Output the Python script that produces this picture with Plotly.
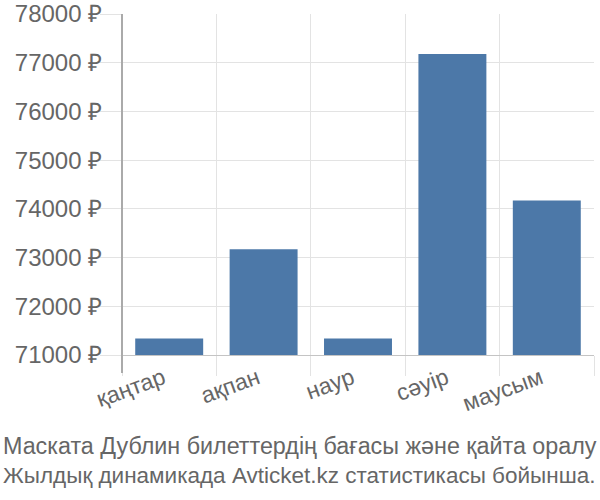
import plotly.graph_objects as go

months = ["қаңтар", "ақпан", "наур", "сәуір", "маусым"]
prices = [71340, 73170, 71340, 77180, 74170]
base_value = 71000
y_ticks = [71000, 72000, 73000, 74000, 75000, 76000, 77000, 78000]
y_tick_text = [f"{v} ₽" for v in y_ticks]
title_lines = ["Маската Дублин билеттердің бағасы және қайта оралу",
               "Жылдық динамикада Avticket.kz статистикасы бойынша."]

FONT = "Liberation Sans, Arial, sans-serif"
GRID = "#e3e3e3"
W, H = 600, 500
PL, PR, PT, PB = 122, 594, 14, 355  # plot area in window pixels
plot_h = PB - PT
plot_w = PR - PL

fig = go.Figure()
fig.add_trace(go.Bar(
    x=months,
    y=[p - base_value for p in prices],
    base=base_value,
    marker=dict(color="#4c78a8", line=dict(width=0)),
    hovertext=[f"{p} ₽" for p in prices],
))

fig.update_layout(
    width=W, height=H,
    margin=dict(l=PL, r=W - PR, t=PT, b=H - PB, autoexpand=False),
    paper_bgcolor="white", plot_bgcolor="white",
    bargap=0.28,
    showlegend=False,
    font=dict(family=FONT, color="#666666", size=23),
    xaxis=dict(
        type="category",
        tickson="boundaries",
        showgrid=True, gridcolor=GRID, gridwidth=1,
        ticks="outside", ticklen=20, tickcolor=GRID,
        tickangle=-20,
        ticklabelshift=-6,
        showline=True, linecolor="#c4c4c4", linewidth=1,
        tickfont=dict(size=23, color="#666666"),
    ),
    yaxis=dict(
        range=[base_value, 78000.5],
        tickvals=y_ticks, ticktext=y_tick_text,
        showgrid=True, gridcolor=GRID, gridwidth=1,
        ticks="outside", ticklen=21, tickcolor=GRID,
        ticklabelstandoff=-7,
        zeroline=False,
        tickfont=dict(size=24, color="#666666"),
    ),
    shapes=[dict(type="line", xref="paper", yref="paper",
                 x0=0, x1=0, y0=-18 / plot_h, y1=1,
                 line=dict(color="#aaaaaa", width=2))],
    annotations=[
        dict(text=title_lines[0], xref="paper", yref="paper",
             x=(1 - PL) / plot_w, y=(PB - 446) / plot_h,
             xanchor="left", yanchor="middle", showarrow=False,
             font=dict(size=23.3, color="#666666", family=FONT)),
        dict(text=title_lines[1], xref="paper", yref="paper",
             x=(1 - PL) / plot_w, y=(PB - 475) / plot_h,
             xanchor="left", yanchor="middle", showarrow=False,
             font=dict(size=22.5, color="#666666", family=FONT)),
    ],
)

fig.write_html("out.html", config={"displayModeBar": False},
               post_script="document.body.style.margin='0';")
